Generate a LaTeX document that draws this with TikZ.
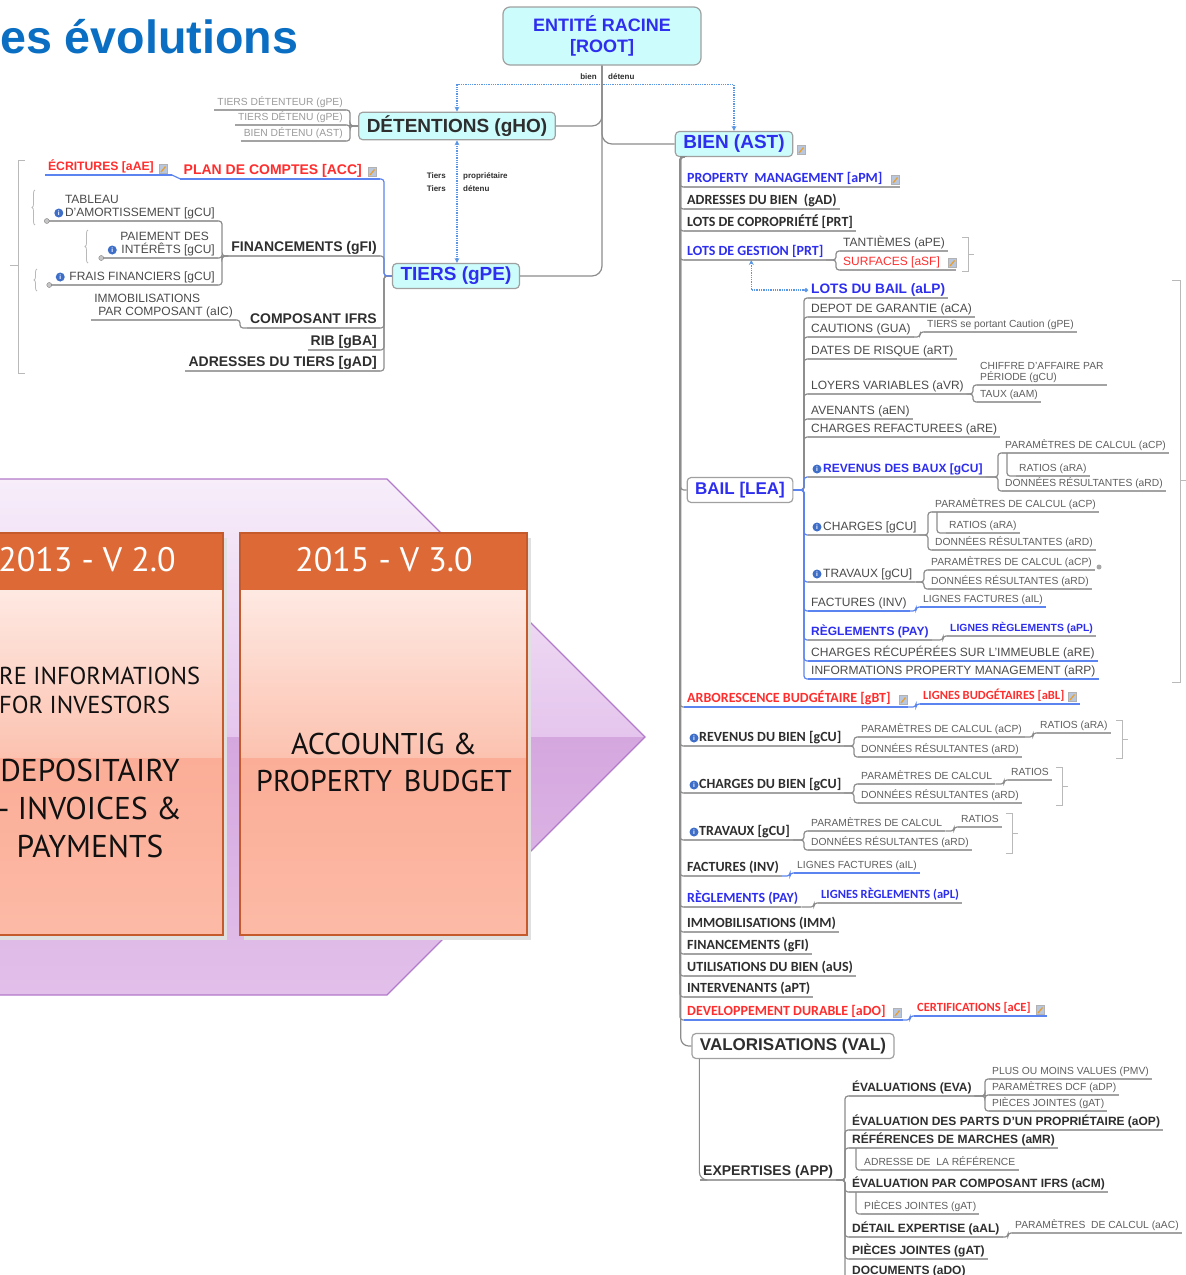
\documentclass[tikz,border=0pt]{standalone}
\usepackage{fontspec}
\setmainfont{Liberation Sans}
\newfontfamily\calfont{Carlito}
\newfontfamily\boxfont{PT Sans}
\usetikzlibrary{arrows.meta,decorations.pathreplacing}
\definecolor{ttlblue}{HTML}{0A6EC2}
\definecolor{mmblue}{HTML}{2E2EEE}
\definecolor{mmred}{HTML}{FF2E2E}
\definecolor{tdark}{HTML}{2E2E2E}
\definecolor{tmid}{HTML}{4A4A4A}
\definecolor{tlight}{HTML}{5E5E5E}
\definecolor{tfaint}{HTML}{9A9A9A}
\definecolor{linegrey}{HTML}{8C8C8C}
\definecolor{ulgrey}{HTML}{A3A3A3}
\definecolor{lblue}{HTML}{5C84F0}
\definecolor{dotblue}{HTML}{5A96E6}
\definecolor{cyanfill}{HTML}{CCFCFC}
\definecolor{boxline}{HTML}{A0A0A0}
\definecolor{noteblue}{HTML}{B9C7DE}
\definecolor{noteorange}{HTML}{E8A030}
\definecolor{infoblue}{HTML}{3E6EC8}
\definecolor{chevA}{HTML}{F7EEFA}
\definecolor{chevB}{HTML}{E5C5ED}
\definecolor{chevC}{HTML}{D5A7DF}
\definecolor{chevD}{HTML}{E2C0EA}
\definecolor{chevline}{HTML}{B27ACA}
\definecolor{peachA}{HTML}{FEE9E2}
\definecolor{peachB}{HTML}{FCC2B0}
\definecolor{peachC}{HTML}{FBAD97}
\definecolor{peachD}{HTML}{FCBAA6}
\definecolor{vorange}{HTML}{DD6A36}
\definecolor{vframe}{HTML}{C55A2C}
\definecolor{vblack}{HTML}{111111}

\begin{document}
\begin{tikzpicture}[x=1pt, y=-1pt,
    conn/.style={draw=linegrey, line width=1.2pt, rounded corners=3pt},
    bconn/.style={conn, draw=lblue},
    ul/.style={line width=1.2pt},
    it/.style={anchor=south west, inner xsep=3pt, inner ysep=1.5pt, text depth=2.5pt,
      append after command={(\tikzlastnode.south west) edge[ul, draw=#1] (\tikzlastnode.south east)}},
    it/.default=ulgrey,
    itl/.style={it=#1, anchor=south east},
    itl/.default=ulgrey,
    branch/.style={to path={-| ([xshift=-4pt]\tikztotarget) -- (\tikztotarget)}},
    branchl/.style={to path={-| ([xshift=4pt]\tikztotarget) -- (\tikztotarget)}},
    topic/.style={draw=boxline, line width=1.2pt, fill=cyanfill, rounded corners=4pt, inner xsep=8pt,
      minimum height=25pt, font=\bfseries\fontsize{19}{21}\selectfont},
    rootbox/.style={topic, rounded corners=7pt, minimum width=198pt, minimum height=58pt, align=center,
      font=\bfseries\fontsize{18}{21}\selectfont, text=mmblue},
    wtopic/.style={topic, fill=white, font=\bfseries\fontsize{17}{19}\selectfont},
    rellbl/.style={font=\bfseries\fontsize{8}{13}\selectfont, text=tdark, inner sep=1pt},
    dotl/.style={draw=dotblue, densely dotted, line width=1.3pt, >={Stealth[length=5pt,width=5pt]}},
    fm/.style={font=\fontsize{12}{13.5}\selectfont, text=tmid},
    fs/.style={font=\fontsize{10.3}{11.5}\selectfont, text=tlight},
    fab/.style={font=\bfseries\fontsize{14}{16}\selectfont, text=tdark},
    fab12/.style={font=\bfseries\fontsize{12}{14}\selectfont, text=tdark},
    fab10/.style={font=\bfseries\fontsize{10.4}{12}\selectfont, text=mmblue},
    fcb/.style={font=\calfont\bfseries\fontsize{14}{16}\selectfont, text=tdark},
    fcb12/.style={font=\calfont\bfseries\fontsize{12.5}{14}\selectfont, text=tdark},
    note/.style={draw=gray!60, fill=noteblue, minimum width=8pt, minimum height=9pt, inner sep=0pt,
      path picture={\draw[noteorange, line width=1.3pt] ([shift={(2pt,1.5pt)}]path picture bounding box.south west) -- ([shift={(-1.5pt,-2pt)}]path picture bounding box.north east);}},
    info/.style={circle, fill=infoblue, minimum size=9pt, inner sep=0pt, font=\bfseries\fontsize{6.5}{6.5}\selectfont, text=white},
    plusm/.style={circle, draw=gray, fill=gray!45, minimum size=5pt, inner sep=0pt},
    dotm/.style={circle, fill=gray!70, minimum size=5pt, inner sep=0pt},
    brk/.style={draw=gray!55, line width=0.8pt},
    brc/.style={brk, decorate, decoration={brace, amplitude=3pt}},
    ttl/.style={anchor=base west, inner sep=0pt, font=\bfseries\fontsize{46.6}{50}\selectfont},
    vhead/.style={font=\boxfont\fontsize{34}{36}\selectfont, text=white},
    vtext/.style={font=\boxfont\fontsize{30}{37}\selectfont, text=vblack, align=center, inner sep=0pt}]
\useasboundingbox (0,0) rectangle (1186,1275);

\shade[top color=chevA, bottom color=chevB] (0,479) -- (387,479) -- (645,737) -- (0,737) -- cycle;
\shade[top color=chevC, bottom color=chevD] (0,737) -- (645,737) -- (387,995) -- (0,995) -- cycle;
\draw[chevline, line width=1.2pt] (-5,479) -- (387,479) -- (645,737) -- (387,995) -- (-5,995);
\foreach \bx in {-64,240} {
  \fill[black!12] (\bx+4,538) rectangle (\bx+291,940);
  \shade[top color=peachA, bottom color=peachB] (\bx,590) rectangle (\bx+287,758);
  \shade[top color=peachC, bottom color=peachD] (\bx,758) rectangle (\bx+287,935);
  \fill[vorange] (\bx,533) rectangle (\bx+287,590);
  \draw[vframe, line width=2pt] (\bx,533) rectangle (\bx+287,935);
}
\node[vhead] (h13) at (87,560) {2013 - V 2.0};
\node[vhead] (h15) at (384,560) {2015 - V 3.0};
\node[vtext, font=\boxfont\fontsize{24.5}{29}\selectfont, anchor=west, align=left] (v13inv) at (-1,690) {RE INFORMATIONS\\FOR INVESTORS};
\node[vtext, font=\boxfont\fontsize{31.5}{38}\selectfont] (v13dep) at (90,808) {DEPOSITAIRY\\- INVOICES \&\\PAYMENTS};
\node[vtext] (v15acc) at (384,762) {ACCOUNTIG \&\\PROPERTY\hspace{4pt} BUDGET};

\node[ttl, text=ttlblue] (ttl) at (0,53) {es évolutions};

\node[rootbox] (root) at (602,36) {ENTITÉ RACINE\\{}[ROOT]};
\node[topic, text=tdark] (deten) at (457,126) {DÉTENTIONS (gHO)};
\node[topic, text=mmblue] (bienb) at (734,144) {BIEN (AST)};
\node[topic, text=mmblue] (tiers) at (456,276) {TIERS (gPE)};
\node[note] (nbien) at (801,150) {};
\draw[conn, rounded corners=10pt] (root.south) |- (deten.east);
\draw[conn, rounded corners=10pt] (root.south) |- (bienb.west);
\draw[conn, rounded corners=10pt] (root.south) |- (tiers.east);
\node[rellbl, anchor=east] (lbien) at (598,77) {bien};
\node[rellbl, anchor=west] (ldetenu) at (607,77) {détenu};
\draw[dotl, <->] (deten.north) -- ++(0,-27) -| (bienb.north);
\draw[dotl, <->] (deten.south) -- (deten.south |- tiers.north);
\node[rellbl, anchor=east, align=right] (ltiers) at (447,182) {Tiers\\Tiers};
\node[rellbl, anchor=west, align=left] (lprop) at (462,182) {propriétaire\\détenu};

\foreach \n/\y/\txt in {td1/110/{TIERS DÉTENTEUR (gPE)}, td2/125/{TIERS DÉTENU (gPE)}, td3/141/{BIEN DÉTENU (AST)}} {
  \node[itl, fs, text=tfaint] (\n) at (346,\y) {\txt};
  \draw[conn] (deten.west) to[branchl] (\n.south east);
}

\node[itl=lblue, fab, text=mmred] (plan) at (380,179) {PLAN DE COMPTES [ACC]\hspace*{15pt}};
\node[note] (nplan) at (372,172) {};
\node[itl=lblue, font=\bfseries\fontsize{12.2}{14}\selectfont, text=mmred] (ecr) at (172,175) {ÉCRITURES [aAE]\hspace*{15pt}};
\node[note] (necr) at (163,169) {};
\draw[bconn] (plan.south west) -- (ecr.south east);
\node[itl, fab] (fin) at (380,256) {FINANCEMENTS (gFI)};
\node[itl, fm, align=left] (tab) at (218,221) {\hspace*{14pt}TABLEAU\\\hspace*{14pt}D'AMORTISSEMENT [gCU]};
\node[itl, fm, align=right] (pai) at (218,258) {PAIEMENT DES\hspace*{6pt}\\\hspace*{16pt}INTÉRÊTS [gCU]};
\node[itl, fm] (frais) at (218,285) {\hspace*{16pt}FRAIS FINANCIERS [gCU]};
\node[info] (itab) at ([xshift=11pt,yshift=8pt]tab.south west) {i};
\node[info] (ipai) at ([xshift=10pt,yshift=8pt]pai.south west) {i};
\node[info] (ifrais) at ([xshift=10pt,yshift=8pt]frais.south west) {i};
\node[plusm] (ptab) at ([xshift=-1pt]tab.south west) {};
\node[plusm] (ppai) at ([xshift=-1pt]pai.south west) {};
\node[plusm] (pfrais) at ([xshift=-1pt]frais.south west) {};
\foreach \c in {tab,pai,frais} \draw[conn] (fin.south west) to[branchl] (\c.south east);
\draw[brc] (35,225) -- (35,190);
\draw[brc] (88,263) -- (88,230);
\draw[brc] (37,291) -- (37,269);
\node[itl, fab] (compos) at (380,328) {COMPOSANT IFRS};
\node[itl, fm, align=left] (immo) at (236,320) {IMMOBILISATIONS\\\hspace*{4pt}PAR COMPOSANT (aIC)};
\draw[conn] (compos.south west) to[branchl] (immo.south east);
\node[itl, fab] (rib) at (380,350) {RIB [gBA]};
\node[itl, fab] (adrt) at (380,371) {ADRESSES DU TIERS [gAD]};
\foreach \c in {fin,compos,rib,adrt} \draw[conn] (tiers.west) to[branchl] (\c.south east);
\draw[bconn] (tiers.west) to[branchl] (plan.south east);
\draw[brk] (25,160) -- (18,160) -- (18,373) -- (25,373) (18,265) -- (10,265);

\coordinate (bbus) at ([xshift=6pt]bienb.south west);
\node[it, fcb, text=mmblue] (pm) at (684,187) {PROPERTY\ \ MANAGEMENT [aPM]\hspace*{14pt}};
\node[note] (npm) at (895,180) {};
\node[it, fcb] (adb) at (684,209) {ADRESSES DU BIEN\ \ (gAD)};
\node[it, fcb] (copro) at (684,231) {LOTS DE COPROPRIÉTÉ [PRT]};
\node[it, fcb, text=mmblue] (gest) at (684,260) {LOTS DE GESTION [PRT]};
\node[it, fm] (tant) at (840,251) {TANTIÈMES (aPE)};
\node[it, fm, text=mmred] (surf) at (840,270) {SURFACES [aSF]\hspace*{13pt}};
\node[note] (nsurf) at (952,263) {};
\foreach \c in {tant,surf} \draw[conn] (gest.south east) to[branch] (\c.south west);
\draw[brk] (962,237) -- (968,237) -- (968,271) -- (962,271) (968,254) -- (974,254);

\node[wtopic, text=mmblue] (bail) at (740,490) {BAIL [LEA]};
\node[it, font=\bfseries\fontsize{13.7}{15}\selectfont, text=mmblue] (lbail) at (808,298) {LOTS DU BAIL (aLP)};
\draw[dotl, {Stealth[length=5pt,width=5pt]}-{Circle[length=4pt]}] ([xshift=-4pt]gest.south) |- (lbail.west);
\draw[conn] (bail.east) to[branch] (lbail.south west);
\foreach \n/\y/\txt in {dep/317/{DEPOT DE GARANTIE (aCA)}, caut/337/{CAUTIONS (GUA)}, dates/359/{DATES DE RISQUE (aRT)},
    loy/394/{LOYERS VARIABLES (aVR)}, aven/419/{AVENANTS (aEN)}, charf/437/{CHARGES REFACTUREES (aRE)}} {
  \node[it, fm] (\n) at (808,\y) {\txt};
  \draw[conn] (bail.east) to[branch] (\n.south west);
}
\node[it, fs] (tsc) at (924,332) {TIERS se portant Caution (gPE)};
\draw[conn] (caut.south east) to[branch] (tsc.south west);
\node[it, fs, align=left] (ca) at (977,385) {CHIFFRE D'AFFAIRE PAR\\PÉRIODE (gCU)};
\node[it, fs] (taux) at (977,402) {TAUX (aAM)};
\foreach \c in {ca,taux} \draw[conn] (loy.south east) to[branch] (\c.south west);

\node[it, fab12, text=mmblue] (revb) at (808,477) {\hspace*{12pt}REVENUS DES BAUX [gCU]};
\node[info] (irevb) at ([xshift=9pt,yshift=8pt]revb.south west) {i};
\node[it, fs] (pc1) at (1002,453) {PARAMÈTRES DE CALCUL (aCP)};
\node[it, fs] (ra1) at (1016,476) {RATIOS (aRA)};
\node[it, fs] (dr1) at (1002,491) {DONNÉES RÉSULTANTES (aRD)};
\foreach \c in {pc1,dr1} \draw[conn] (revb.south east) to[branch] (\c.south west);
\draw[conn] ([xshift=5pt]pc1.south west) |- (ra1.south west);
\node[it, fm] (chg) at (808,535) {\hspace*{12pt}CHARGES [gCU]};
\node[info] (ichg) at ([xshift=9pt,yshift=8pt]chg.south west) {i};
\node[it, fs] (pc2) at (932,512) {PARAMÈTRES DE CALCUL (aCP)};
\node[it, fs] (ra2) at (946,533) {RATIOS (aRA)};
\node[it, fs] (dr2) at (932,550) {DONNÉES RÉSULTANTES (aRD)};
\foreach \c in {pc2,dr2} \draw[conn] (chg.south east) to[branch] (\c.south west);
\draw[conn] ([xshift=5pt]pc2.south west) |- (ra2.south west);
\node[it, fm] (trav) at (808,582) {\hspace*{12pt}TRAVAUX [gCU]};
\node[info] (itrav) at ([xshift=9pt,yshift=8pt]trav.south west) {i};
\node[it, fs] (pc3) at (928,570) {PARAMÈTRES DE CALCUL (aCP)};
\node[it, fs] (dr3) at (928,589) {DONNÉES RÉSULTANTES (aRD)};
\node[dotm] (dpc3) at ([xshift=4pt,yshift=3pt]pc3.south east) {};
\foreach \c in {pc3,dr3} \draw[conn] (trav.south east) to[branch] (\c.south west);
\node[it=lblue, fm] (fact) at (808,611) {FACTURES (INV)};
\node[it=lblue, fs] (lf) at (920,607) {LIGNES FACTURES (aIL)};
\draw[bconn] (fact.south east) to[branch] (lf.south west);
\node[it, fab12, text=mmblue] (regl) at (808,640) {RÈGLEMENTS (PAY)};
\node[it, fab10] (lr) at (947,636) {LIGNES RÈGLEMENTS (aPL)};
\draw[conn] (regl.south east) to[branch] (lr.south west);
\node[it=lblue, fm] (crec) at (808,661) {CHARGES RÉCUPÉRÉES SUR L'IMMEUBLE (aRE)};
\node[it=lblue, fm] (infpm) at (808,679) {INFORMATIONS PROPERTY MANAGEMENT (aRP)};
\foreach \c in {revb,chg,trav,fact,regl,crec,infpm} \draw[bconn] (bail.east) to[branch] (\c.south west);
\draw[brk] (1172,280) -- (1180,280) -- (1180,682) -- (1172,682) (1180,480) -- (1186,480);

\node[it=lblue, fcb, text=mmred] (arb) at (684,707) {ARBORESCENCE BUDGÉTAIRE [gBT]\hspace*{14pt}};
\node[note] (narb) at (903,700) {};
\node[it=lblue, fcb12, text=mmred] (lb) at (920,704) {LIGNES BUDGÉTAIRES [aBL]\hspace*{13pt}};
\node[note] (nlb) at (1072,697) {};
\draw[bconn] (arb.south east) to[branch] (lb.south west);
\node[it, fcb] (revbien) at (684,746) {\hspace*{12pt}REVENUS DU BIEN [gCU]};
\node[info] (irevbien) at ([xshift=10pt,yshift=8pt]revbien.south west) {i};
\node[it, fs] (pc4) at (858,737) {PARAMÈTRES DE CALCUL (aCP)};
\node[it, fs] (ra4) at (1037,733) {RATIOS (aRA)};
\node[it, fs] (dr4) at (858,757) {DONNÉES RÉSULTANTES (aRD)};
\foreach \c in {pc4,dr4} \draw[conn] (revbien.south east) to[branch] (\c.south west);
\draw[conn] (pc4.south east) to[branch] (ra4.south west);
\draw[brk] (1116,720) -- (1122,720) -- (1122,758) -- (1116,758) (1122,739) -- (1128,739);
\node[it, fcb] (chbien) at (684,793) {\hspace*{12pt}CHARGES DU BIEN [gCU]};
\node[info] (ichbien) at ([xshift=10pt,yshift=8pt]chbien.south west) {i};
\node[it, fs] (pc5) at (858,784) {PARAMÈTRES DE CALCUL};
\node[it, fs] (ra5) at (1008,780) {RATIOS};
\node[it, fs] (dr5) at (858,803) {DONNÉES RÉSULTANTES (aRD)};
\foreach \c in {pc5,dr5} \draw[conn] (chbien.south east) to[branch] (\c.south west);
\draw[conn] (pc5.south east) to[branch] (ra5.south west);
\draw[brk] (1056,767) -- (1062,767) -- (1062,805) -- (1056,805) (1062,786) -- (1068,786);
\node[it, fcb] (trbien) at (684,840) {\hspace*{12pt}TRAVAUX [gCU]};
\node[info] (itrbien) at ([xshift=10pt,yshift=8pt]trbien.south west) {i};
\node[it, fs] (pc6) at (808,831) {PARAMÈTRES DE CALCUL};
\node[it, fs] (ra6) at (958,827) {RATIOS};
\node[it, fs] (dr6) at (808,850) {DONNÉES RÉSULTANTES (aRD)};
\foreach \c in {pc6,dr6} \draw[conn] (trbien.south east) to[branch] (\c.south west);
\draw[conn] (pc6.south east) to[branch] (ra6.south west);
\draw[brk] (1006,813) -- (1012,813) -- (1012,853) -- (1006,853) (1012,833) -- (1018,833);
\node[it, fcb] (fbien) at (684,876) {FACTURES (INV)};
\node[it=lblue, fs] (lf2) at (794,873) {LIGNES FACTURES (aIL)};
\draw[bconn] (fbien.south east) to[branch] (lf2.south west);
\node[it, fcb, text=mmblue] (rbien) at (684,907) {RÈGLEMENTS (PAY)};
\node[it, fcb12, text=mmblue] (lr2) at (818,903) {LIGNES RÈGLEMENTS (aPL)};
\draw[conn] (rbien.south east) to[branch] (lr2.south west);
\foreach \n/\y/\txt in {imm/932/{IMMOBILISATIONS (IMM)}, finb/954/{FINANCEMENTS (gFI)}, util/976/{UTILISATIONS DU BIEN (aUS)}, interv/997/{INTERVENANTS (aPT)}}
  \node[it, fcb] (\n) at (684,\y) {\txt};
\node[it=lblue, fcb, text=mmred] (dd) at (684,1020) {DEVELOPPEMENT DURABLE [aDO]\hspace*{14pt}};
\node[note] (ndd) at (897,1013) {};
\node[it=lblue, fcb12, text=mmred] (cert) at (914,1016) {CERTIFICATIONS [aCE]\hspace*{13pt}};
\node[note] (ncert) at (1040,1010) {};
\draw[bconn] (dd.south east) to[branch] (cert.south west);
\node[wtopic, text=tdark] (valor) at (793,1046) {VALORISATIONS (VAL)};
\foreach \c in {pm,adb,copro,gest,arb,revbien,chbien,trbien,fbien,rbien,imm,finb,util,interv,dd} \draw[conn] (bbus) to[branch] (\c.south west);
\draw[conn] (bbus) |- (bail.west);
\draw[conn, rounded corners=8pt] (bbus) |- (valor.west);

\node[it, fab] (exp) at (700,1180) {EXPERTISES (APP)};
\draw[conn, rounded corners=8pt] ([xshift=8pt]valor.south west) |- (exp.south west);
\node[it, fab12] (eva) at (849,1096) {ÉVALUATIONS (EVA)};
\foreach \n/\y/\txt in {pmv/1079/{PLUS OU MOINS VALUES (PMV)}, dcf/1095/{PARAMÈTRES DCF (aDP)}, pj1/1111/{PIÈCES JOINTES (gAT)}} {
  \node[it, fs] (\n) at (989,\y) {\txt};
  \draw[conn] (eva.south east) to[branch] (\n.south west);
}
\foreach \n/\y/\txt in {evp/1130/{ÉVALUATION DES PARTS D'UN PROPRIÉTAIRE (aOP)}, refm/1148/{RÉFÉRENCES DE MARCHES (aMR)},
    evc/1192/{ÉVALUATION PAR COMPOSANT IFRS (aCM)}, det/1237/{DÉTAIL EXPERTISE (aAL)}, pj3/1259/{PIÈCES JOINTES (gAT)}, docs/1279/{DOCUMENTS (aDO)}}
  \node[it, fab12] (\n) at (849,\y) {\txt};
\foreach \c in {eva,evp,refm,evc,det,pj3,docs} \draw[conn] (exp.south east) to[branch] (\c.south west);
\node[it, fs] (adr) at (861,1170) {ADRESSE DE\ \ LA RÉFÉRENCE};
\draw[conn] ([xshift=7pt]refm.south west) |- (adr.south west);
\node[it, fs] (pj2) at (861,1214) {PIÈCES JOINTES (gAT)};
\draw[conn] ([xshift=7pt]evc.south west) |- (pj2.south west);
\node[it, fs] (pdc) at (1012,1233) {PARAMÈTRES\ \ DE CALCUL (aAC)};
\draw[conn] (det.south east) to[branch] (pdc.south west);
\end{tikzpicture}
\end{document}
